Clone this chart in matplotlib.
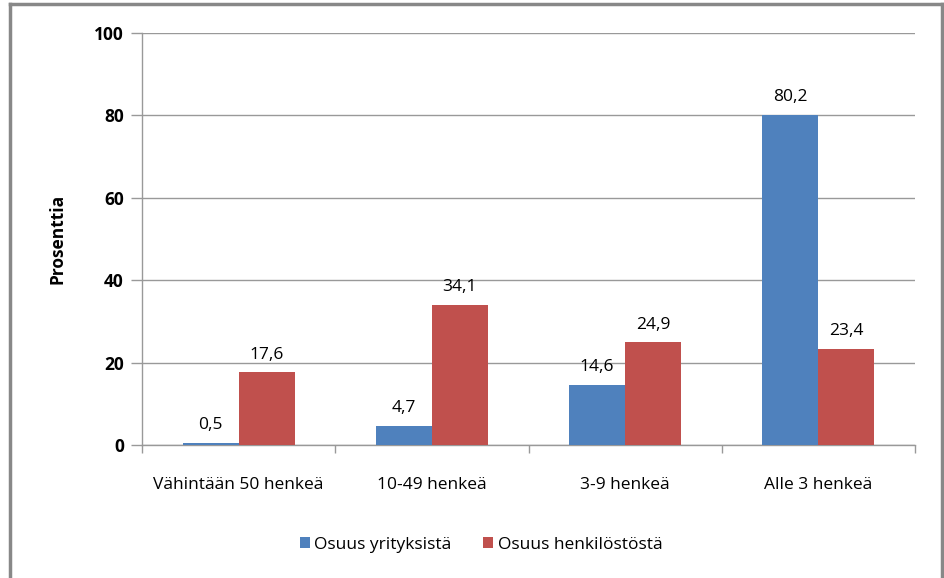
import matplotlib
matplotlib.use('Agg')
import numpy as np
from matplotlib import pyplot as plt
from matplotlib.lines import Line2D

matplotlib.rc('font', **{'family': 'sans-serif', 'sans-serif': ['Open Sans', 'DejaVu Sans']})

categories = ['Vähintään 50 henkeä', '10-49 henkeä', '3-9 henkeä', 'Alle 3 henkeä']
yritykset = [0.5, 4.7, 14.6, 80.2]
henkilosto = [17.6, 34.1, 24.9, 23.4]
series_names = ['Osuus yrityksistä', 'Osuus henkilöstöstä']
yticks = [0, 20, 40, 60, 80, 100]

blue = '#4f81bd'
red = '#c0504d'
grid_col = '#999999'
bar_width = 0.29
fs = 12.5

fig = plt.figure(figsize=(9.44, 5.78), dpi=100)
ax = fig.add_axes([142 / 944, 1 - 445 / 578, (915 - 142) / 944, (445 - 33) / 578])

x = np.arange(len(categories))
b1 = ax.bar(x - bar_width / 2, yritykset, bar_width, color=blue, label=series_names[0], zorder=3)
b2 = ax.bar(x + bar_width / 2, henkilosto, bar_width, color=red, label=series_names[1], zorder=3)

for bars, vals in ((b1, yritykset), (b2, henkilosto)):
    for rect, v in zip(bars, vals):
        ax.annotate(('%.1f' % v).replace('.', ','),
                    (rect.get_x() + rect.get_width() / 2, v),
                    xytext=(0, 7), textcoords='offset points',
                    ha='center', va='bottom', fontsize=fs, fontweight='medium')

ax.set_xlim(-0.5, len(categories) - 0.5)
ax.set_ylim(0, 100)
ax.set_yticks(yticks)
ax.set_yticklabels([str(t) for t in yticks], fontsize=fs, fontweight='bold')
ax.yaxis.grid(True, color=grid_col, linewidth=1, zorder=0)

ax.set_xticks(x)
ax.set_xticklabels(categories, fontsize=fs)
ax.set_xticks(np.arange(-0.5, len(categories)), minor=True)
ax.tick_params(axis='x', which='major', length=0, pad=23)
ax.tick_params(axis='x', which='minor', length=6, color=grid_col, width=1)
ax.tick_params(axis='y', length=8, color=grid_col, width=1, pad=5)

for s in ('top', 'right'):
    ax.spines[s].set_visible(False)
for s in ('left', 'bottom'):
    ax.spines[s].set_color(grid_col)
    ax.spines[s].set_linewidth(1)

ax.set_ylabel('Prosenttia', fontsize=fs, fontweight='bold', labelpad=20)

fig.legend(handles=[b1, b2], loc='center', bbox_to_anchor=(481 / 944, 1 - 545 / 578), ncol=2,
           frameon=False, fontsize=fs, handlelength=0.6, handleheight=0.6, handletextpad=0.25,
           columnspacing=1.8)

# outer chart frame
frame_kw = dict(color='#888888', linewidth=2.5, transform=fig.transFigure)
fig.add_artist(Line2D([10 / 944, 10 / 944], [0, 1 - 4 / 578], **frame_kw))
fig.add_artist(Line2D([10 / 944, 942 / 944], [1 - 4 / 578, 1 - 4 / 578], **frame_kw))
fig.add_artist(Line2D([942 / 944, 942 / 944], [0, 1 - 4 / 578], **frame_kw))

plt.savefig('out.png', dpi=100)
